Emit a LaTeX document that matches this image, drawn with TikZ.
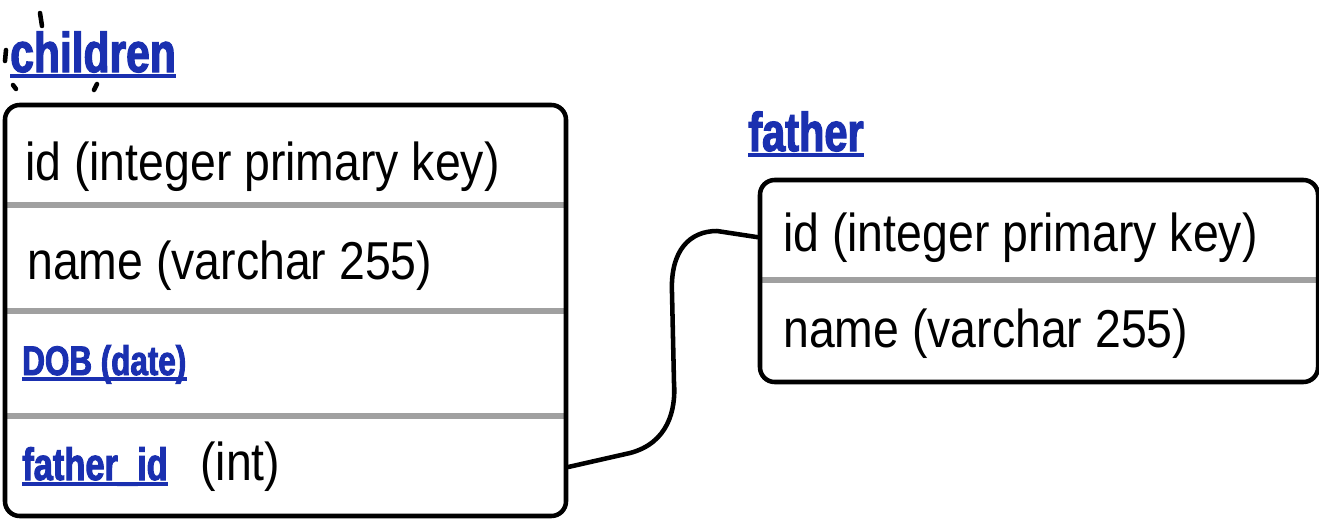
\documentclass[tikz,border=0pt]{standalone}
\usepackage{fontspec}
\usetikzlibrary{fit}
\newfontfamily\handfont[FakeStretch=0.87]{Liberation Sans}
\newfontfamily\titlefont[FakeStretch=0.76,FakeBold=2.2]{Liberation Sans}
\definecolor{linkblue}{RGB}{26,48,176}
\definecolor{divgray}{RGB}{160,160,160}
\begin{document}
\begin{tikzpicture}[x=0.75pt,y=-0.75pt,
  tablebox/.style={draw=black,line width=3.4pt,rounded corners=11pt,inner sep=0pt},
  divider/.style={draw=divgray,line width=3.8pt},
  hand/.style={inner sep=0pt,anchor=base west,font=\handfont\fontsize{40}{48}\selectfont},
  linktext/.style={inner sep=0pt,anchor=base west,text=linkblue},
  uline/.style={draw=linkblue,line width=2.6pt},
  conn/.style={draw=black,line width=3.4pt,line cap=round,line join=round},
  stroke/.style={draw=black,line width=3.4pt,line cap=round}]
\useasboundingbox (0,0) rectangle (1319,518);

% stray hand-drawn marks around the title
\draw[stroke] (40,13) -- (42,26);
\draw[stroke] (6,50) -- (5,61);
\draw[stroke] (13,85) -- (16,89);
\draw[stroke] (97,84) -- (94,90);

% titles
\node[linktext,font=\titlefont\bfseries\fontsize{42}{48}\selectfont] (tch) at (10,72) {children};
\draw[uline] ([yshift=-3pt]tch.base west) -- ([yshift=-3pt]tch.base east);
\node[linktext,font=\titlefont\bfseries\fontsize{41}{48}\selectfont] (tfa) at (748,151) {father};
\draw[uline] ([yshift=-3pt]tfa.base west) -- ([yshift=-3pt]tfa.base east);

% children table
\draw[divider] (7,205) -- (564,205);
\draw[divider] (7,311) -- (564,311);
\draw[divider] (7,416) -- (564,416);
\node[tablebox,fit={(5,105) (566,516)}] (ch) {};
\node[hand] (c1) at (25,180) {id (integer primary key)};
\node[hand] (c2) at (27,279) {name (varchar 255)};
\node[linktext,font=\titlefont\bfseries\fontsize{31}{36}\selectfont] (c3) at (22,375) {DOB (date)};
\draw[uline] ([yshift=-3pt]c3.base west) -- ([yshift=-3pt]c3.base east);
\node[linktext,font=\titlefont\bfseries\fontsize{34}{40}\selectfont] (c4) at (22,480) {father\_id};
\draw[uline] ([yshift=-3pt]c4.base west) -- ([yshift=-3pt]c4.base east);
\node[hand] (c4t) at (200,480) {(int)};

% father table
\draw[divider] (762,280) -- (1317,280);
\node[tablebox,fit={(760,180) (1318,382)}] (fa) {};
\node[hand] (f1) at (783,251) {id (integer primary key)};
\node[hand] (f2) at (783,347) {name (varchar 255)};

% relation
\draw[conn] (ch.east |- 0,467) -- (630,453)
  .. controls (668,443) and (676,410) .. (674,383)
  -- (672,293)
  .. controls (670,250) and (690,231) .. (717,231)
  -- (fa.west |- f1.center);
\end{tikzpicture}
\end{document}
